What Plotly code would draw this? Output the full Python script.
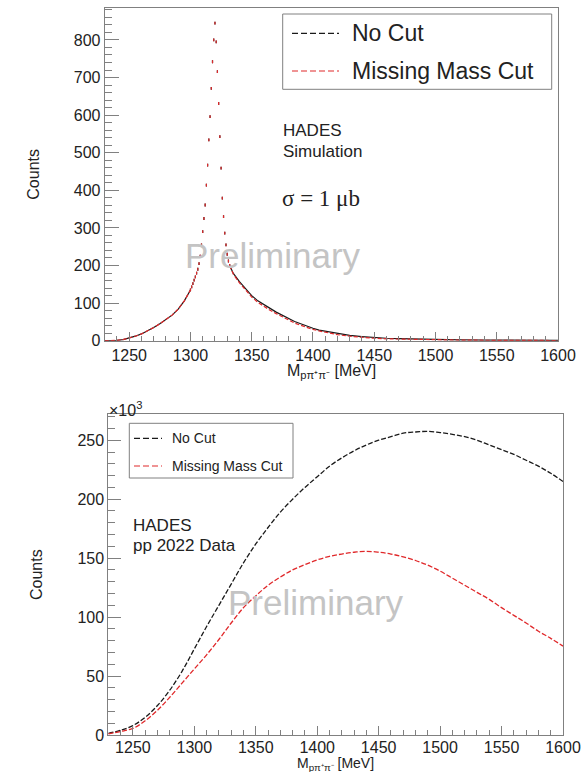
import plotly.graph_objects as go

# ---------------- data: top panel (HADES simulation) ----------------
# smooth tail parts (line)
top_line_x_left = [1230, 1235, 1240, 1245, 1250, 1255, 1260, 1265, 1270, 1275, 1280, 1285, 1290, 1295, 1300]
top_nocut_left = [0, 0.3, 1, 3, 7, 12, 18, 26, 35, 45, 56, 68, 84, 106, 135]
top_mmcut_left = [0, 0.3, 1, 3, 7, 12, 18, 26, 35, 45, 56, 68, 84, 106, 135]

top_line_x_right = [1332, 1335, 1340, 1345, 1350, 1355, 1360, 1365, 1370, 1375, 1380, 1385, 1390, 1395,
                    1400, 1405, 1410, 1415, 1420, 1430, 1440, 1450, 1460, 1470, 1480, 1500, 1520, 1540,
                    1560, 1580, 1600]
top_nocut_right = [200, 179, 157, 138, 120, 106, 95, 86, 76, 67, 58, 51, 45, 38,
                   33, 28, 25, 22, 19, 14, 11, 8, 6.5, 5.5, 4.5, 3, 2.2, 1.7,
                   1.2, 1.0, 0.8]
top_mmcut_right = [200, 177, 154, 134, 116, 102, 91, 81, 72, 63, 54, 47, 41, 35,
                   30, 26, 22, 19, 16, 12, 9, 6.5, 5, 4.2, 3.5, 2.2, 1.6, 1.2,
                   0.9, 0.7, 0.5]

# steep peak region: one point per 1 MeV bin (drawn as dots)
top_peak_x = [1300, 1301, 1302, 1303, 1304, 1305, 1306, 1307, 1308, 1309, 1310, 1311, 1312, 1313, 1314,
              1315, 1316, 1317, 1318, 1319, 1320, 1321, 1322, 1323, 1324, 1325, 1326, 1327, 1328,
              1329, 1330, 1331, 1332]
top_peak_nocut = [135, 143, 152, 161, 170, 180, 190, 205, 225, 255, 290, 325, 361, 414, 467,
                  534, 596, 671, 742, 800, 845, 795, 716, 631, 543, 459, 379, 330, 286,
                  255, 230, 212, 200]
top_peak_mmcut = top_peak_nocut

# ---------------- data: bottom panel (pp 2022 data), counts in 10^3 ----------------
bot_x = [1230, 1240, 1250, 1260, 1270, 1280, 1290, 1300, 1310, 1320, 1330, 1340, 1350, 1360, 1370,
         1380, 1390, 1400, 1410, 1420, 1430, 1440, 1450, 1460, 1470, 1480, 1490, 1500, 1510, 1520,
         1530, 1540, 1550, 1560, 1570, 1580, 1590, 1600]
bot_nocut = [1.4, 4, 8, 15, 25, 38, 54, 73, 92, 110, 128, 146, 162, 176, 189,
             200, 210, 219, 228, 235, 241, 246, 250, 253, 256, 257, 257.5, 256.5, 255, 253,
             250, 246, 242, 238, 233, 228, 222, 215]
bot_mmcut = [1.0, 3, 5.6, 12, 21, 32, 44, 56, 68, 81, 95, 108, 118, 127, 134,
             140, 144.5, 148.5, 151.5, 153.5, 155, 155.8, 155, 153.5, 151, 148, 144, 139, 133, 127,
             121, 115, 108, 101.5, 95, 88, 82, 75.4]

x_title = "M<sub>pπ⁺π⁻</sub> [MeV]"
y_title = "Counts"

# ---------------- layout constants ----------------
W, H = 586, 772
def px(x):
    return x / W
def py(y):
    return 1 - y / H

BLACK = "#1a1a1a"
RED = "#e0282a"
FRAME = "#808080"
FONT = "Liberation Sans"

fig = go.Figure()

# top panel traces
for xs, ys in ((top_line_x_left, top_nocut_left), (top_line_x_right, top_nocut_right)):
    fig.add_trace(go.Scatter(x=xs, y=ys, mode="lines", line=dict(color=BLACK, width=1.2),
                             xaxis="x", yaxis="y", showlegend=False, hoverinfo="skip"))
fig.add_trace(go.Scatter(x=top_peak_x, y=top_peak_nocut, mode="markers",
                         marker=dict(symbol="line-ns", size=2, line=dict(color=BLACK, width=1.2)),
                         xaxis="x", yaxis="y", showlegend=False, hoverinfo="skip"))
for xs, ys in ((top_line_x_left, top_mmcut_left), (top_line_x_right, top_mmcut_right)):
    fig.add_trace(go.Scatter(x=xs, y=ys, mode="lines", line=dict(color=RED, width=1.2, dash="4px,2px"),
                             xaxis="x", yaxis="y", showlegend=False, hoverinfo="skip"))
fig.add_trace(go.Scatter(x=top_peak_x, y=top_peak_mmcut, mode="markers",
                         marker=dict(symbol="line-ns", size=2, line=dict(color=RED, width=1.2)),
                         xaxis="x", yaxis="y", showlegend=False, hoverinfo="skip"))

# bottom panel traces
fig.add_trace(go.Scatter(x=bot_x, y=bot_nocut, mode="lines", line_shape="spline",
                         line=dict(color=BLACK, width=1.3, dash="5px,2px"),
                         xaxis="x2", yaxis="y2", showlegend=False, name="No Cut"))
fig.add_trace(go.Scatter(x=bot_x, y=bot_mmcut, mode="lines", line_shape="spline",
                         line=dict(color=RED, width=1.3, dash="5px,2px"),
                         xaxis="x2", yaxis="y2", showlegend=False, name="Missing Mass Cut"))

tickfont = dict(family=FONT, size=16, color="#222")
axis_common = dict(showline=True, mirror=True, linecolor=FRAME, linewidth=1, showgrid=False,
                   zeroline=False, ticks="inside", tickcolor=FRAME, tickfont=tickfont, automargin=False)

fig.update_layout(
    width=W, height=H, margin=dict(l=0, r=0, t=0, b=0),
    paper_bgcolor="white", plot_bgcolor="white",
    xaxis=dict(domain=[px(104.7), px(558)], range=[1230, 1600], anchor="y", dtick=50, tick0=0,
               ticklen=9, minor=dict(dtick=10, ticks="inside", ticklen=5, tickcolor=FRAME),
               **axis_common),
    yaxis=dict(domain=[py(340.7), py(8)], range=[0, 885], anchor="x", dtick=100, tick0=0,
               ticklen=14, minor=dict(dtick=20, ticks="inside", ticklen=7, tickcolor=FRAME),
               title=dict(text=y_title, font=dict(family=FONT, size=16, color="#222"), standoff=30),
               **axis_common),
    xaxis2=dict(domain=[px(108.3), px(563)], range=[1230, 1600], anchor="y2", dtick=50, tick0=0,
                ticklen=9, minor=dict(dtick=10, ticks="inside", ticklen=5, tickcolor=FRAME),
                ticklabelstandoff=-2,
                **axis_common),
    yaxis2=dict(domain=[py(735), py(414.3)], range=[0, 272], anchor="x2", dtick=50, tick0=0,
                ticklen=13, minor=dict(dtick=10, ticks="inside", ticklen=7, tickcolor=FRAME),
                title=dict(text=y_title, font=dict(family=FONT, size=16, color="#222"), standoff=30),
                **axis_common),
)

annotations = []
shapes = []

def text(x, y, s, size, color="#222", family=FONT, xanchor="left"):
    annotations.append(dict(x=px(x), y=py(y), xref="paper", yref="paper", text=s, showarrow=False,
                            xanchor=xanchor, yanchor="middle",
                            font=dict(family=family, size=size, color=color)))

# x-axis titles
text(331, 372, x_title, 16, xanchor="center")
text(335.6, 763.5, x_title, 14, xanchor="center")

# top panel texts
text(281, 131, "HADES", 17)
text(281, 151, "Simulation", 17)
text(280, 198, "σ = 1 μb", 23, family="Liberation Serif")
text(273, 255, "Preliminary", 35, color="#c4c4c4", xanchor="center")

# bottom panel texts
text(107, 409, "×10<sup>3</sup>", 16)
text(131, 525, "HADES", 17)
text(131, 545, "pp 2022 Data", 17)
text(316, 602, "Preliminary", 35, color="#c4c4c4", xanchor="center")

# top legend
shapes.append(dict(type="rect", xref="paper", yref="paper", x0=px(282.7), x1=px(551.7), y0=py(89.3),
                   y1=py(14), line=dict(color=FRAME, width=1), fillcolor="white", layer="below"))
shapes.append(dict(type="line", xref="paper", yref="paper", x0=px(292), x1=px(339), y0=py(33.3), y1=py(33.3),
                   line=dict(color=BLACK, width=1.2, dash="6px,3px")))
shapes.append(dict(type="line", xref="paper", yref="paper", x0=px(292), x1=px(339), y0=py(71), y1=py(71),
                   line=dict(color=RED, width=1.2, dash="6px,3px")))
text(349.8, 33.3, "No Cut", 23)
text(349.8, 71, "Missing Mass Cut", 23)

# bottom legend
shapes.append(dict(type="rect", xref="paper", yref="paper", x0=px(129.3), x1=px(293), y0=py(478),
                   y1=py(423.3), line=dict(color=FRAME, width=1), fillcolor="white", layer="below"))
shapes.append(dict(type="line", xref="paper", yref="paper", x0=px(134), x1=px(162), y0=py(438.3), y1=py(438.3),
                   line=dict(color=BLACK, width=1.2, dash="6px,3px")))
shapes.append(dict(type="line", xref="paper", yref="paper", x0=px(134), x1=px(162), y0=py(466), y1=py(466),
                   line=dict(color=RED, width=1.2, dash="6px,3px")))
text(170, 438.3, "No Cut", 14)
text(170, 466, "Missing Mass Cut", 14)

fig.update_layout(annotations=annotations, shapes=shapes)

fig.write_html("out.html")
